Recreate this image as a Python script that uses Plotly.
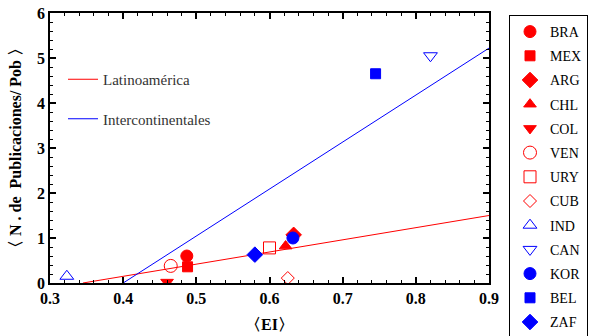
import plotly.graph_objects as go

# ---- data ----
countries = ["BRA", "MEX", "ARG", "CHL", "COL", "VEN", "URY", "CUB",
             "IND", "CAN", "KOR", "BEL", "ZAF"]
ei = [0.487, 0.488, 0.633, 0.622, 0.460, 0.465, 0.600, 0.625,
      0.323, 0.820, 0.632, 0.745, 0.580]
pubs = [0.60, 0.36, 1.07, 0.82, 0.02, 0.38, 0.78, 0.11,
        0.15, 5.05, 1.00, 4.65, 0.63]
symbols = ["circle", "square", "diamond", "triangle-up", "triangle-down",
           "circle-open", "square-open", "diamond-open",
           "triangle-up-open", "triangle-down-open", "circle", "square", "diamond"]
colors = ["#ff0000"] * 8 + ["#0000ff"] * 5
sizes = [12, 10, 12, 11, 11, 13, 12, 10, 12, 12, 12, 10, 12]

fit_names = ["Latinoamérica", "Intercontinentales"]
fit_x = [[0.345, 0.9], [0.40, 0.9]]
fit_y = [[0.0, 1.50], [0.0, 5.22]]
fit_colors = ["#ff0000", "#0000ff"]

x_ticks = [0.3, 0.4, 0.5, 0.6, 0.7, 0.8, 0.9]
y_ticks = [0, 1, 2, 3, 4, 5, 6]

serif = "Liberation Serif"

fig = go.Figure()

for name, xs, ys, c in zip(fit_names, fit_x, fit_y, fit_colors):
    fig.add_trace(go.Scatter(
        x=xs, y=ys, mode="lines", name=name,
        line=dict(color=c, width=1),
        legend="legend2", legendgroup=name,
    ))

for name, xv, yv, s, c, sz in zip(countries, ei, pubs, symbols, colors, sizes):
    fig.add_trace(go.Scatter(
        x=[xv], y=[yv], mode="markers", name=name,
        marker=dict(symbol=s, color=c, size=sz,
                    line=dict(color=c, width=1)),
        legend="legend", legendgroup=name,
    ))

axis_common = dict(
    showline=True, linecolor="black", linewidth=1.5, mirror="allticks",
    ticks="inside", ticklen=6, tickwidth=1.5, tickcolor="black",
    showgrid=False, zeroline=False,
    tickfont=dict(family=serif, size=16, color="black", weight="bold"),
)

fig.update_xaxes(
    range=[0.3, 0.9], tickvals=x_ticks,
    ticktext=[f"{v:.1f}" for v in x_ticks],
    minor=dict(dtick=0.02, tick0=0.3, ticks="inside", ticklen=3,
               tickwidth=1, tickcolor="black"),
    **axis_common,
)
fig.update_yaxes(
    range=[0, 6], tickvals=y_ticks,
    ticktext=[str(v) for v in y_ticks],
    minor=dict(dtick=0.2, tick0=0, ticks="inside", ticklen=3,
               tickwidth=1, tickcolor="black"),
    **axis_common,
)

fig.add_annotation(
    text="〈EI〉", xref="paper", yref="paper", x=0.5, y=-42 / 270,
    xanchor="center", yanchor="middle", showarrow=False,
    font=dict(family=serif, size=16, color="black", weight="bold"),
)
fig.add_annotation(
    text="〈 N . de  Publicaciones/ Pob 〉", xref="paper", yref="paper",
    x=-35 / 439, y=0.5, xanchor="center", yanchor="middle", showarrow=False,
    textangle=-90,
    font=dict(family=serif, size=16, color="black", weight="bold"),
)

fig.update_layout(
    width=593, height=336,
    margin=dict(l=50, r=104, t=13, b=53, autoexpand=False),
    paper_bgcolor="white", plot_bgcolor="white",
    font=dict(family=serif, color="black"),
    legend=dict(
        xref="container", yref="container",
        x=509 / 593, y=1 - 15 / 336, xanchor="left", yanchor="top",
        bordercolor="black", borderwidth=1, bgcolor="white",
        font=dict(family=serif, size=14, color="black"),
        tracegroupgap=3, itemwidth=30, maxheight=600,
    ),
    legend2=dict(
        xref="container", yref="container",
        x=63 / 593, y=1 - 63 / 336, xanchor="left", yanchor="top",
        bgcolor="rgba(0,0,0,0)", borderwidth=0,
        font=dict(family=serif, size=15, color="#333333"),
        tracegroupgap=17, itemwidth=30,
    ),
)

fig.write_html("out.html")
